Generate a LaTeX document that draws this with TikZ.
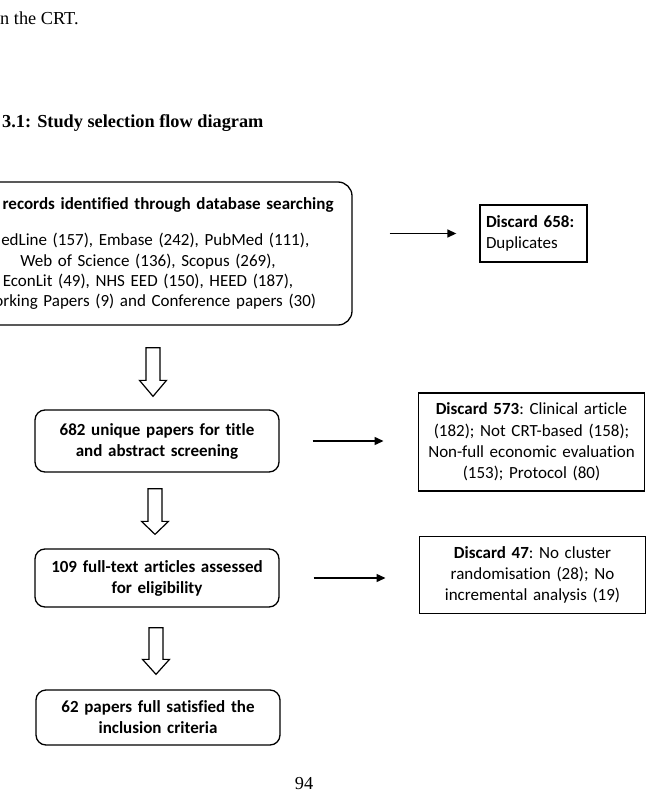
\documentclass[tikz,border=0pt]{standalone}
\usepackage{fontspec}
\setmainfont{Liberation Serif}
\newfontfamily\boxfont[Ligatures=NoCommon]{Carlito}
\usetikzlibrary{arrows.meta, calc}
\tikzset{
  pagetext/.style={font=\fontsize{18.3}{22}\selectfont, inner sep=0pt},
  roundbox/.style={rectangle, rounded corners=10pt, draw=black, line width=1.3pt,
    text width=226pt, align=center, minimum width=244pt, minimum height=58pt,
    font=\boxfont\fontsize{17}{21}\selectfont\bfseries\frenchspacing},
  discbox/.style={rectangle, draw=black, line width=1.3pt, align=center,
    text width=220pt, font=\boxfont\fontsize{17}{21.3}\selectfont\frenchspacing},
  arr/.style={-{Triangle[length=9pt,width=8pt]}, line width=1.4pt},
  blockarr/.style={draw=black, line width=1.2pt, fill=white, line join=miter}
}

\begin{document}
\begin{tikzpicture}[x=1pt, y=-1pt]
\fill[white] (0,0) rectangle (653,794);
\useasboundingbox (0,0) rectangle (653,794);

% Page text
\node[pagetext, anchor=west] (prevline) at (0,18) {n the CRT.};
\node[pagetext, anchor=west, font=\fontsize{18.3}{22}\selectfont\bfseries] (title) at (2,123)
  {3.1: Study selection flow diagram};
\node[pagetext] (pageno) at (304,784) {94};

% Main flow
\node[roundbox, rounded corners=14pt, text width=390pt, minimum width=408pt,
  minimum height=143pt, font=\boxfont\fontsize{17}{20.3}\selectfont\frenchspacing] (search) at (148,253.5) {
  \textbf{\phantom{1340 }records identified through database searching}\\[16pt]
  MedLine (157), Embase (242), PubMed (111),\\
  Web of Science (136), Scopus (269),\\
  EconLit (49), NHS EED (150), HEED (187),\\
  Working Papers (9) and Conference papers (30)
};
\node[roundbox, minimum height=62pt] (unique) at (157,441) {
  682 unique papers for title\\
  and abstract screening
};
\node[roundbox] (fulltext) at (157,578) {
  109 full-text articles assessed\\
  for eligibility
};
\node[roundbox, minimum height=55pt] (included) at (158,717.5) {
  62 papers full satisfied the\\
  inclusion criteria
};

% Discards
\node[discbox, align=left, text width=95pt, inner xsep=6pt, minimum height=57pt] (dup) at (533.5,233.5) {
  \textbf{Discard 658:}\\
  Duplicates
};
\node[discbox, minimum height=98pt] (clinical) at (531.5,442) {
  \textbf{Discard 573}: Clinical article\\
  (182); Not CRT-based (158);\\
  Non-full economic evaluation\\
  (153); Protocol (80)
};
\node[discbox, minimum height=77pt] (nocluster) at (532.5,575) {
  \textbf{Discard 47}: No cluster\\
  randomisation (28); No\\
  incremental analysis (19)
};

% Side arrows
\draw[arr, shorten <=37pt, shorten >=23pt] (search.east |- dup.west) -- (dup.west);
\draw[arr, shorten <=33pt, shorten >=34pt] (unique.east) -- (unique.east -| clinical.west);
\draw[arr, shorten <=34pt, shorten >=33pt] (fulltext.east) -- (fulltext.east -| nocluster.west);

% Down arrows
\draw[blockarr] let \p1=($(search.south -| unique.north)+(-4,22)$), \p2=($(unique.north)+(0,-13)$) in
  (\x1-7pt,\y1) -- (\x1+7pt,\y1) -- (\x1+7pt,\y2+16pt) -- (\x1+13.5pt,\y2+16pt)
  -- (\x1,\y2) -- (\x1-13.5pt,\y2+16pt) -- (\x1-7pt,\y2+16pt) -- cycle;
\draw[blockarr] let \p1=($(unique.south -| fulltext.north)+(-2,16)$), \p2=($(fulltext.north)+(0,-14)$) in
  (\x1-7pt,\y1) -- (\x1+7pt,\y1) -- (\x1+7pt,\y2+13pt) -- (\x1+13.5pt,\y2+13pt)
  -- (\x1,\y2) -- (\x1-13.5pt,\y2+13pt) -- (\x1-7pt,\y2+13pt) -- cycle;
\draw[blockarr] let \p1=($(fulltext.south -| included.north)+(-2,20)$), \p2=($(included.north)+(0,-15)$) in
  (\x1-7pt,\y1) -- (\x1+7pt,\y1) -- (\x1+7pt,\y2+15pt) -- (\x1+13.5pt,\y2+15pt)
  -- (\x1,\y2) -- (\x1-13.5pt,\y2+15pt) -- (\x1-7pt,\y2+15pt) -- cycle;

\end{tikzpicture}
\end{document}
